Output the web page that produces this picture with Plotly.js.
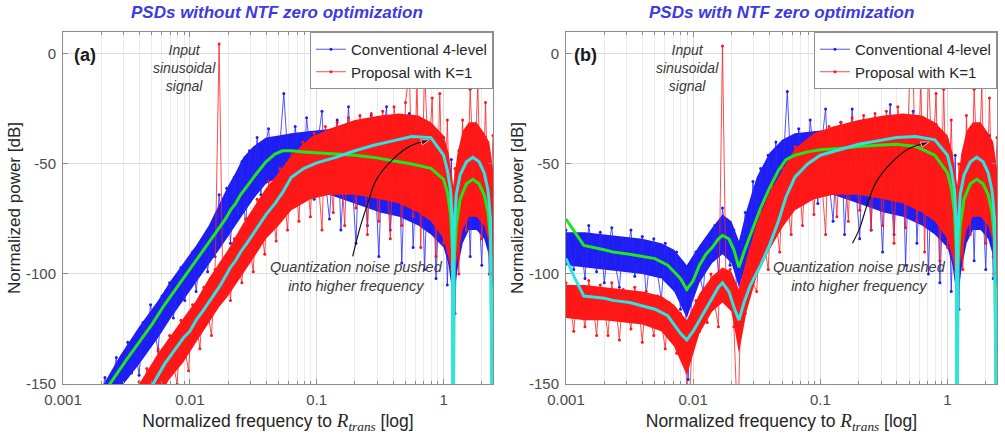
<!DOCTYPE html>
<html>
<head>
<meta charset="utf-8">
<script src="https://cdn.plot.ly/plotly-3.0.1.min.js"></script>
<style>
  html, body { margin: 0; padding: 0; background: #ffffff; }
  #chart { width: 1005px; height: 437px; }
</style>
</head>
<body>
<div id="chart"></div>
<script>
// ---------- frequency grids (normalized to R_trans) ----------
const bandFreq = [0.001, 0.00141, 0.002, 0.00282, 0.00398, 0.00562, 0.00708, 0.00891, 0.0112, 0.0141,
  0.017, 0.02, 0.0229, 0.0263, 0.0316, 0.0398, 0.0501, 0.0631, 0.0891, 0.126,
  0.2, 0.316, 0.447, 0.631, 0.794, 1.0, 1.096, 1.19, 1.288, 1.413,
  1.585, 1.82, 2.09, 2.29, 2.45];

const noiseFreq = [0.001, 0.00107, 0.00115, 0.00123, 0.00132, 0.00141, 0.00151, 0.00162, 0.00174, 0.00186, 0.002,
  0.00214, 0.00229, 0.00246, 0.00263, 0.00282, 0.00302, 0.00324, 0.00347, 0.00372, 0.00398,
  0.00427, 0.00457, 0.0049, 0.00525, 0.00562, 0.00603, 0.00646, 0.00692, 0.00741, 0.00794,
  0.00851, 0.00912, 0.00977, 0.0105, 0.0112, 0.012, 0.0129, 0.0138, 0.0148, 0.0158,
  0.017, 0.0182, 0.0195, 0.0209, 0.0224, 0.024, 0.0257, 0.0275, 0.0295, 0.0316,
  0.0339, 0.0363, 0.0389, 0.0417, 0.0447, 0.0479, 0.0513, 0.055, 0.0589, 0.0631,
  0.0676, 0.0724, 0.0776, 0.0832, 0.0891, 0.0955, 0.102, 0.11, 0.117, 0.126,
  0.135, 0.145, 0.155, 0.166, 0.178, 0.191, 0.204, 0.219, 0.234, 0.251,
  0.269, 0.288, 0.309, 0.331, 0.355, 0.380, 0.407, 0.437, 0.468, 0.501,
  0.537, 0.575, 0.617, 0.661, 0.708, 0.759, 0.813, 0.871, 0.933, 1.0,
  1.07, 1.15, 1.23, 1.32, 1.41, 1.51, 1.62, 1.74, 1.86, 2.0,
  2.14, 2.29, 2.45];

const smoothFreq = [0.001, 0.001175, 0.00138, 0.002, 0.00234, 0.00316, 0.00501, 0.00631, 0.00794, 0.00891,
  0.01, 0.0112, 0.0126, 0.0141, 0.0158, 0.017, 0.0191, 0.0209, 0.0229, 0.0251,
  0.0282, 0.0339, 0.0398, 0.0468, 0.0537, 0.0631, 0.0794, 0.1, 0.141, 0.2,
  0.282, 0.398, 0.562, 0.794, 1.0, 1.072, 1.135, 1.175, 1.19, 1.208,
  1.259, 1.349, 1.514, 1.698, 1.905, 2.089, 2.239, 2.344, 2.449];

// ---------- (a) without NTF zero optimization, power in dB ----------
const aBlueTop = [-170, -170, -152, -137, -124, -112, -103, -95, -87, -78, -68, -60, -54, -47, -42, -38, -37, -36, -35, -34,
  -33, -32, -32, -33, -35, -42, -50, -64, -50, -42, -39, -39, -43, -50, -64];
const aBlueBot = [-170, -170, -162, -152, -141, -129, -120, -112, -104, -96, -89, -83, -78, -73, -66, -59, -56, -56, -58, -64,
  -68, -72, -74, -78, -82, -88, -96, -112, -98, -86, -80, -80, -84, -92, -108];
const aRedTop = [-170, -170, -170, -170, -150, -136, -128, -120, -112, -102, -95, -89, -83, -77, -70, -61, -54, -46, -38, -34,
  -30, -28, -27, -28, -31, -37, -45, -60, -45, -35, -31, -31, -36, -40, -52];
const aRedBot = [-170, -170, -170, -170, -164, -155, -147, -140, -131, -122, -115, -110, -105, -100, -93, -84, -78, -71, -66, -64,
  -64, -66, -68, -72, -76, -84, -93, -103, -93, -80, -74, -74, -78, -86, -103];

const aBlueNoise = [-170, -170, -170, -170, -170, -170, -170, -170, -170, -151, -157,
  -147, -156, -149, -138, -152, -142, -131, -145, -134, -146,
  -122, -131, -114, -125, -135, -110, -116, -104, -120, -108,
  -97, -112, -100, -90, -108, -93, -84, -99, -80, -92,
  -64, -82, -61, -86, -56, -74, -49, -80, -44, -58,
  -38, -64, -44, -34, -52, -63, -40, -18, -45, -60,
  -33, -48, -62, -29, -45, -66, -40, -26, -58, -75,
  -45, -30, -80, -52, -24, -60, -86, -31, -48, -78,
  -28, -55, -92, -40, -24, -80, -50, -29, -95, -45,
  -27, -88, -50, -30, -98, -45, -33, -102, -60, -38,
  -105, -48, -118, -44, -70, -36, -92, -34, -60, -96,
  -38, -100, -56];
const aRedNoise = [-170, -170, -170, -170, -170, -170, -170, -170, -170, -170, -170,
  -170, -170, -170, -170, -170, -170, -170, -170, -162, -149,
  -157, -143, -154, -158, -134, -148, -156, -128, -141, -150,
  -121, -134, -144, -114, -121, -134, -106, -116, -128, -98,
  4.5, -108, -93, -112, -84, -95, -104, -75, -86, -99,
  -66, -78, -91, -58, -70, -85, -52, -64, -80, -44,
  -55, -76, -40, -50, -74, -36, -54, -80, -33, -48,
  -72, -31, -46, -78, -29, -52, -70, -28, -40, -82,
  -27, -45, -76, -26, -58, -84, -24, -40, -78, -22,
  -8, -74, -14, -88, -6, -50, -20, -92, -18, -86,
  -30, -98, -52, -100, -30, -80, -16, -60, -14, -84,
  -22, -90, -37];

const aGreen = [-200, -200, -200, -157, -150, -139, -123, -114, -106, -102,
  -98, -94, -90, -86, -82, -79, -75, -71, -68, -64,
  -60, -54, -49, -45.5, -44, -44, -44.5, -45, -45.5, -46,
  -47, -48.5, -50, -52, -57, -63, -73, -90, -200, -95,
  -78, -66, -59, -57, -59, -64, -72, -84, -200];
const aCyan = [-200, -200, -200, -200, -200, -200, -151, -141, -133, -129,
  -126, -121, -117, -113, -109, -106, -101, -97, -94, -90,
  -86, -79, -73, -68, -63, -56, -52, -49.5, -47, -44,
  -41.5, -39.5, -37.5, -38, -46, -53, -62, -78, -200, -82,
  -64, -55, -49, -47, -49, -54, -62, -75, -200];

// ---------- (b) with NTF zero optimization, power in dB ----------
const bBlueTop = [-81, -81, -82, -83, -84, -86, -89, -96, -87, -79, -73, -76, -85, -71, -56, -45, -39, -36, -35, -34,
  -33, -32, -32, -33, -35, -42, -50, -64, -50, -42, -39, -39, -43, -50, -64];
const bBlueBot = [-96, -97, -98, -99, -100, -102, -108, -120, -104, -95, -91, -95, -106, -95, -84, -71, -63, -57, -58, -64,
  -68, -72, -74, -78, -82, -88, -96, -112, -98, -86, -80, -80, -84, -92, -108];
const bRedTop = [-105, -105, -106, -107, -108, -110, -114, -121, -109, -101, -97, -99, -107, -93, -77, -63, -53, -43, -36, -33,
  -30, -28, -27, -28, -31, -37, -45, -60, -45, -35, -31, -31, -36, -40, -52];
const bRedBot = [-120, -121, -121, -122, -123, -126, -133, -146, -127, -117, -113, -117, -136, -117, -101, -89, -79, -71, -66, -64,
  -64, -66, -68, -72, -76, -84, -93, -103, -93, -80, -74, -74, -78, -86, -103];

const bBlueNoise = [-80, -90, -98, -83, -88, -102, -78, -90, -99, -81, -104,
  -88, -79, -97, -106, -84, -90, -80, -101, -94, -83,
  -110, -92, -84, -100, -112, -86, -96, -106, -90, -116,
  -100, -148, -108, -90, -100, -108, -84, -94, -78, -100,
  -70, -84, -96, -80, -118, -90, -72, -94, -58, -72,
  -52, -78, -46, -60, -40, -70, -48, -17, -55, -64,
  -34, -50, -63, -30, -46, -68, -41, -25, -58, -76,
  -44, -31, -82, -50, -25, -62, -84, -30, -47, -80,
  -29, -56, -90, -42, -23, -82, -48, -28, -96, -44,
  -26, -86, -52, -31, -100, -44, -32, -104, -58, -39,
  -108, -46, -116, -46, -72, -34, -94, -35, -58, -98,
  -37, -102, -52];
const bRedNoise = [-104, -112, -126, -106, -114, -124, -103, -112, -128, -105, -115,
  -128, -104, -114, -130, -107, -116, -125, -106, -114, -131,
  -108, -118, -128, -110, -121, -134, -113, -124, -136, -118,
  -121, -170, -134, -112, -126, -108, -122, -100, -114, -124,
  3.6, -112, -98, -124, -170, -104, -118, -92, -104, -108,
  -72, -86, -98, -60, -74, -90, -52, -66, -82, -42,
  -54, -78, -40, -50, -73, -36, -55, -82, -33, -47,
  -74, -31, -46, -76, -29, -53, -71, -28, -41, -80,
  -27, -46, -78, -26, -57, -86, -24, -41, -79, -14,
  -10, -76, -12, -90, -7, -52, -18, -94, -16, -88,
  -30, -100, -50, -98, -28, -82, -16, -62, -15, -86,
  -20, -92, -38];

const bGreen = [-75, -81, -87, -89, -90, -91, -93, -96, -102, -107,
  -103, -96, -91, -88, -84, -82.5, -84, -89, -97, -90,
  -82, -70, -61, -53, -48, -46, -44.5, -43.5, -43, -42,
  -41.5, -41, -42, -46, -54, -61, -72, -90, -200, -95,
  -78, -66, -59, -57, -59, -64, -72, -84, -200];
const bCyan = [-93, -102, -110, -111, -112, -113, -116, -119, -127, -130,
  -126, -121, -116, -111, -106, -104, -108, -115, -121, -113,
  -105, -96, -87, -76, -65, -56, -50, -46, -43.5, -41,
  -39.5, -38, -37.5, -39, -46, -53, -62, -78, -200, -82,
  -64, -55, -49, -47, -49, -54, -62, -75, -200];

// curved pointer from the note up to the noise hump
const aArrowFreq = [0.192, 0.218, 0.252, 0.296, 0.396, 0.54, 0.776];
const aArrowDb = [-92, -79.5, -68, -57, -48, -42, -39];
const bArrowFreq = [0.179, 0.203, 0.235, 0.276, 0.369, 0.5, 0.72];
const bArrowDb = [-86, -79.5, -68, -58, -49, -43, -40];

// ---------- labels ----------
const panelTitles = ['PSDs without NTF zero optimization', 'PSDs with NTF zero optimization'];
const panelTags = ['(a)', '(b)'];
const seriesNames = ['Conventional 4-level', 'Proposal with K=1'];
const xTickVals = [0.001, 0.01, 0.1, 1];
const xTickText = ['0.001', '0.01', '0.1', '1'];
const yTickVals = [0, -50, -100, -150];
const yTickText = ['0', '-50', '-100', '-150'];
const signalNote = 'Input<br>sinusoidal<br>signal';
const noiseNote = 'Quantization noise pushed<br>into higher frequency';
const xTitle = 'Normalized frequency to <span style="font-family:Liberation Serif;font-size:19px"><i>R</i><sub><i>trans</i></sub></span> [log]';
const yTitle = 'Normalized power [dB]';

// ---------- styling ----------
const FONT = 'Liberation Sans, Arial, sans-serif';
const BLUE = '#1e1ef2';
const BLUE_LINE = 'rgba(40,40,255,0.8)';
const RED = '#ff1616';
const RED_LINE = 'rgba(255,30,30,0.8)';
const GREEN = '#1fe61f';
const CYAN = '#2fe3e3';
const AXIS = '#8c8c8c';

function panelTraces(p) {
  const xa = p.idx === 0 ? 'x' : 'x2';
  const ya = p.idx === 0 ? 'y' : 'y2';
  const lg = p.idx === 0 ? 'legend' : 'legend2';
  const band = (y, fill, color) => ({
    type: 'scatter', mode: 'lines', x: bandFreq, y: y, xaxis: xa, yaxis: ya,
    line: { width: 0, color: color }, fill: fill, fillcolor: color,
    showlegend: false, hoverinfo: 'skip'
  });
  const noise = (y, name, lineColor, dotColor) => ({
    type: 'scatter', mode: 'lines+markers', x: noiseFreq, y: y, xaxis: xa, yaxis: ya,
    name: name, legend: lg,
    line: { width: 1, color: lineColor },
    marker: { size: 3, color: dotColor }
  });
  const smooth = (y, color) => ({
    type: 'scatter', mode: 'lines', x: smoothFreq, y: y, xaxis: xa, yaxis: ya,
    line: { width: 3, color: color }, showlegend: false, hoverinfo: 'skip'
  });
  const n = p.arrowFreq.length;
  // only the last vertex carries the arrowhead
  const headSizes = p.arrowFreq.map((_, k) => (k === n - 1 ? 9 : 0));
  return [
    band(p.blueBot, 'none', BLUE),
    band(p.blueTop, 'tonexty', BLUE),
    noise(p.blueNoise, seriesNames[0], BLUE_LINE, BLUE),
    band(p.redBot, 'none', RED),
    band(p.redTop, 'tonexty', RED),
    noise(p.redNoise, seriesNames[1], RED_LINE, RED),
    smooth(p.green, GREEN),
    smooth(p.cyan, CYAN),
    {
      type: 'scatter', mode: 'lines+markers', x: p.arrowFreq, y: p.arrowDb, xaxis: xa, yaxis: ya,
      line: { width: 1.2, color: '#111111', shape: 'spline' },
      marker: { symbol: 'arrow', angleref: 'previous', size: headSizes, color: '#111111' },
      showlegend: false, hoverinfo: 'skip'
    }
  ];
}

const panels = [
  { idx: 0, blueTop: aBlueTop, blueBot: aBlueBot, redTop: aRedTop, redBot: aRedBot,
    blueNoise: aBlueNoise, redNoise: aRedNoise, green: aGreen, cyan: aCyan,
    arrowFreq: aArrowFreq, arrowDb: aArrowDb },
  { idx: 1, blueTop: bBlueTop, blueBot: bBlueBot, redTop: bRedTop, redBot: bRedBot,
    blueNoise: bBlueNoise, redNoise: bRedNoise, green: bGreen, cyan: bCyan,
    arrowFreq: bArrowFreq, arrowDb: bArrowDb }
];

const traces = panels.flatMap(panelTraces);

// plot-area placement of the two panels (paper fractions)
const xDomains = [[0.0627, 0.4905], [0.5632, 0.992]];
const yDomain = [0.1213, 0.9268];

function xAxis(i) {
  return {
    type: 'log', range: [-3, 0.389], domain: xDomains[i], anchor: i === 0 ? 'y' : 'y2',
    tickmode: 'array', tickvals: xTickVals, ticktext: xTickText,
    ticks: 'inside', ticklen: 5, tickcolor: AXIS, ticklabelstandoff: 2,
    showline: true, linecolor: AXIS, linewidth: 1, mirror: 'allticks',
    showgrid: true, gridcolor: '#dcdcdc', gridwidth: 1, zeroline: false,
    minor: { dtick: 'D1', showgrid: true, gridcolor: '#ebebeb', gridwidth: 1,
             ticks: 'inside', ticklen: 3, tickcolor: AXIS },
    tickfont: { family: FONT, size: 15, color: '#4a4a4a' },
    title: { text: xTitle, font: { family: FONT, size: 17.5, color: '#262626' }, standoff: 7 }
  };
}
function yAxis(i) {
  return {
    range: [-150, 10], domain: yDomain, anchor: i === 0 ? 'x' : 'x2',
    tickmode: 'array', tickvals: yTickVals, ticktext: yTickText,
    ticks: 'inside', ticklen: 5, tickcolor: AXIS, ticklabelstandoff: 3,
    showline: true, linecolor: AXIS, linewidth: 1, mirror: 'allticks',
    showgrid: true, gridcolor: '#dcdcdc', gridwidth: 1, zeroline: false,
    tickfont: { family: FONT, size: 15, color: '#4a4a4a' },
    title: { text: yTitle, font: { family: FONT, size: 17, color: '#262626' }, standoff: 1 }
  };
}
function legendBox(xRight) {
  return {
    x: xRight, y: yDomain[1], xanchor: 'right', yanchor: 'top',
    bgcolor: '#ffffff', bordercolor: '#8f8f8f', borderwidth: 1,
    font: { family: FONT, size: 15, color: '#262626' },
    traceorder: 'normal', tracegroupgap: 0, itemwidth: 30
  };
}

const annotations = [];
const titleX = [0.2756, 0.7776];
const tagX = [0.0716, 0.569];
const signalX = [0.184, 0.6836];
const noteX = [0.355, 0.8557];
panels.forEach((p, i) => {
  annotations.push({ xref: 'paper', yref: 'paper', x: titleX[i], y: 0.972, xanchor: 'center', yanchor: 'middle',
    text: '<b><i>' + panelTitles[i] + '</i></b>', showarrow: false,
    font: { family: FONT, size: 17, color: '#3b3be0' } });
  annotations.push({ xref: 'paper', yref: 'paper', x: tagX[i], y: 0.874, xanchor: 'left', yanchor: 'middle',
    text: '<b>' + panelTags[i] + '</b>', showarrow: false,
    font: { family: FONT, size: 18, color: '#1a1a1a' } });
  annotations.push({ xref: 'paper', yref: 'paper', x: signalX[i], y: 0.844, xanchor: 'center', yanchor: 'middle',
    text: '<i>' + signalNote + '</i>', showarrow: false, align: 'center',
    font: { family: FONT, size: 14, color: '#3a3a3a' } });
  annotations.push({ xref: 'paper', yref: 'paper', x: noteX[i], y: 0.3684, xanchor: 'center', yanchor: 'middle',
    text: '<i>' + noiseNote + '</i>', showarrow: false, align: 'center',
    font: { family: FONT, size: 14.5, color: '#3a3a3a' } });
});

const layout = {
  width: 1005, height: 437,
  margin: { l: 0, r: 0, t: 0, b: 0 },
  paper_bgcolor: '#ffffff', plot_bgcolor: '#ffffff',
  font: { family: FONT },
  showlegend: true,
  xaxis: xAxis(0), yaxis: yAxis(0),
  xaxis2: xAxis(1), yaxis2: yAxis(1),
  legend: legendBox(xDomains[0][1]),
  legend2: legendBox(xDomains[1][1]),
  annotations: annotations
};

Plotly.newPlot('chart', traces, layout, { displayModeBar: false, staticPlot: true });
</script>
</body>
</html>
